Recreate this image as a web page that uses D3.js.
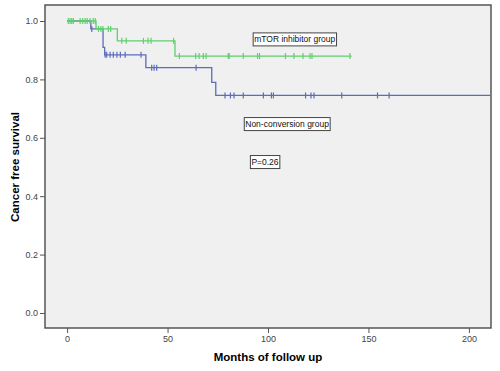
<!DOCTYPE html>
<html>
<head>
<meta charset="utf-8">
<script src="https://cdn.jsdelivr.net/npm/d3@7"></script>
<style>
  body { margin: 0; background: #fff; }
  svg text { font-family: "Liberation Sans", Arial, sans-serif; }
</style>
</head>
<body>
<div id="chart"></div>
<script>
// Kaplan-Meier step data (months, survival)
const mtorTimes = [0, 14.4, 25, 53.7];
const mtorSurv = [1.0, 0.973, 0.932, 0.88];
const mtorEnd = 141.6;
const mtorCensored = [0.6, 1.5, 2.3, 3.1, 6.5, 7.8, 9, 10, 11.4, 13, 14,
  15.6, 16.8, 17.8, 20.5, 21.7, 27.2, 29.4, 38, 40.3, 41.8, 53,
  55.9, 64, 65.7, 67.8, 69.2, 80.2, 80.7, 87.7, 94.8, 95.8, 108.7,
  112.9, 117.4, 120.9, 121.9, 140.8];

const nonTimes = [0, 11.8, 17.9, 18.7, 39.2, 72, 74];
const nonSurv = [1.0, 0.973, 0.91, 0.884, 0.84, 0.79, 0.745];
const nonEnd = 211;
const nonCensored = [12.3, 18.9, 19.7, 21.4, 23, 24.8, 26.5, 28.9, 36.8,
  42.1, 43.3, 44.6, 64.2, 78.6, 81.3, 83.1, 87.7, 97.7, 101.7, 102.7,
  118.7, 121.4, 122.9, 136.7, 154.5, 160.3];

const xTicks = [0, 50, 100, 150, 200];
const yTicks = [0, 0.2, 0.4, 0.6, 0.8, 1.0];

const width = 500;
const height = 371;
const plot = { left: 45, top: 5, right: 491, bottom: 328 };

const svg = d3.select('#chart')
  .append('svg')
  .attr('width', width)
  .attr('height', height);

const x = d3.scaleLinear().domain([-11, 211]).range([plot.left, plot.right]);
const y = d3.scaleLinear().domain([-0.0514, 1.0548]).range([plot.bottom, plot.top]);

// plot background + frame
svg.append('rect')
  .attr('x', plot.left).attr('y', plot.top)
  .attr('width', plot.right - plot.left)
  .attr('height', plot.bottom - plot.top)
  .attr('fill', '#f0f0f0')
  .attr('stroke', '#4a4a4a')
  .attr('stroke-width', 1.4);

// axes
const yAxis = svg.append('g')
  .attr('transform', `translate(${plot.left},0)`)
  .call(d3.axisLeft(y).tickValues(yTicks).tickFormat(d3.format('.1f')).tickSize(5).tickPadding(2));
const xAxis = svg.append('g')
  .attr('transform', `translate(0,${plot.bottom})`)
  .call(d3.axisBottom(x).tickValues(xTicks).tickSize(5).tickPadding(3));

[xAxis, yAxis].forEach(g => {
  g.select('.domain').remove();
  g.selectAll('line').attr('stroke', '#555');
  g.selectAll('text').attr('fill', '#444').style('font-size', '9px');
});

// axis titles
svg.append('text')
  .attr('x', (x(0) + x(200)) / 2)
  .attr('y', 361)
  .attr('text-anchor', 'middle')
  .style('font-size', '11.5px')
  .style('font-weight', 'bold')
  .text('Months of follow up');

svg.append('text')
  .attr('transform', `translate(19,${(y(0) + y(1)) / 2}) rotate(-90)`)
  .attr('text-anchor', 'middle')
  .style('font-size', '11.5px')
  .style('font-weight', 'bold')
  .text('Cancer free survival');

// survival curves
svg.append('clipPath').attr('id', 'clip')
  .append('rect')
  .attr('x', plot.left).attr('y', plot.top)
  .attr('width', plot.right - plot.left)
  .attr('height', plot.bottom - plot.top);

function survAt(times, surv, t) {
  let s = surv[0];
  times.forEach((tt, i) => { if (t >= tt) s = surv[i]; });
  return s;
}

function drawCurve(times, surv, end, censored, color) {
  const pts = times.map((t, i) => [t, surv[i]]);
  pts.push([end, surv[surv.length - 1]]);
  const line = d3.line()
    .x(d => x(d[0]))
    .y(d => y(d[1]))
    .curve(d3.curveStepAfter);
  const g = svg.append('g').attr('clip-path', 'url(#clip)');
  g.append('path')
    .datum(pts)
    .attr('d', line)
    .attr('fill', 'none')
    .attr('stroke', color)
    .attr('stroke-width', 1.3);
  g.selectAll('.cens')
    .data(censored)
    .enter().append('line')
    .attr('x1', d => x(d)).attr('x2', d => x(d))
    .attr('y1', d => y(survAt(times, surv, d)) - 3)
    .attr('y2', d => y(survAt(times, surv, d)) + 3)
    .attr('stroke', color)
    .attr('stroke-width', 1.2);
}

drawCurve(nonTimes, nonSurv, nonEnd, nonCensored, '#5b6cbb');
drawCurve(mtorTimes, mtorSurv, mtorEnd, mtorCensored, '#5fcf6f');

// annotation boxes
function label(txt, cx, cy) {
  const g = svg.append('g');
  const t = g.append('text')
    .attr('x', cx).attr('y', cy)
    .attr('text-anchor', 'middle')
    .attr('dominant-baseline', 'central')
    .attr('fill', '#111')
    .style('font-size', '8.5px')
    .text(txt);
  const bb = t.node().getBBox();
  g.insert('rect', 'text')
    .attr('x', bb.x - 1).attr('y', cy - 6.5)
    .attr('width', bb.width + 2).attr('height', 13)
    .attr('fill', '#fff')
    .attr('stroke', '#444')
    .attr('stroke-width', 1);
}

label('mTOR inhibitor group', x(113.3), y(0.937));
label('Non-conversion group', x(109.5), y(0.647));
label('P=0.26', x(98.5), y(0.517));
</script>
</body>
</html>
